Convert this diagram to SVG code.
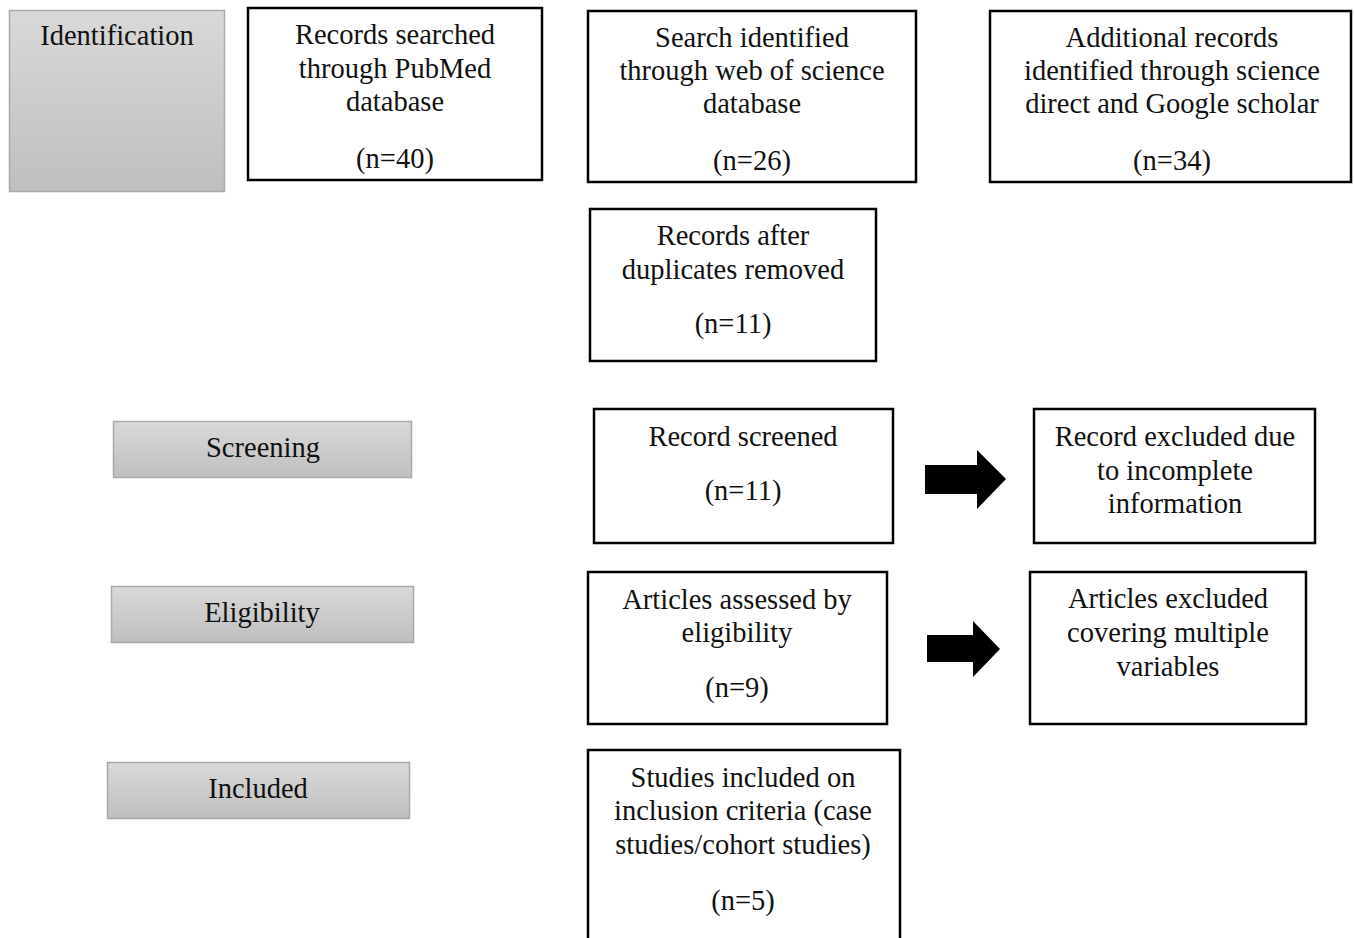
<svg xmlns="http://www.w3.org/2000/svg" width="1354" height="938" viewBox="0 0 1354 938">
<defs>
<linearGradient id="g" x1="0" y1="0" x2="0" y2="1">
<stop offset="0" stop-color="#d9d9d9"/>
<stop offset="1" stop-color="#bfbfbf"/>
</linearGradient>
<style>
.st{fill:url(#g);stroke:#a9a9a9;stroke-width:1.5}
.bx{fill:#fff;stroke:#000;stroke-width:2.5}
text{font-family:"Liberation Serif","DejaVu Serif",serif;font-size:28.5px;fill:#111;text-anchor:middle}
.ar{fill:#000}
</style>
</defs>
<rect width="1354" height="938" fill="#fff"/>
<g id="stage-identification"><rect class="st" x="9.5" y="10.5" width="215" height="181"/><text x="117" y="45">Identification</text></g>
<g id="stage-screening"><rect class="st" x="113.5" y="421.5" width="298" height="56"/><text x="263" y="457">Screening</text></g>
<g id="stage-eligibility"><rect class="st" x="111.5" y="586.5" width="302" height="56"/><text x="262" y="622">Eligibility</text></g>
<g id="stage-included"><rect class="st" x="107.5" y="762.5" width="302" height="56"/><text x="258" y="798">Included</text></g>
<g id="pubmed"><rect class="bx" x="248" y="8" width="294" height="172"/><text x="395" y="44">Records searched</text><text x="395" y="78">through PubMed</text><text x="395" y="111">database</text><text x="395" y="168">(n=40)</text></g>
<g id="wos"><rect class="bx" x="588" y="11" width="328" height="171"/><text x="752" y="47">Search identified</text><text x="752" y="80">through web of science</text><text x="752" y="113">database</text><text x="752" y="170">(n=26)</text></g>
<g id="additional"><rect class="bx" x="990" y="11" width="361" height="171"/><text x="1172" y="47">Additional records</text><text x="1172" y="80">identified through science</text><text x="1172" y="113">direct and Google scholar</text><text x="1172" y="170">(n=34)</text></g>
<g id="duplicates"><rect class="bx" x="590" y="209" width="286" height="152"/><text x="733" y="245">Records after</text><text x="733" y="279">duplicates removed</text><text x="733" y="333">(n=11)</text></g>
<g id="screened"><rect class="bx" x="594" y="409" width="299" height="134"/><text x="743" y="446">Record screened</text><text x="743" y="500">(n=11)</text></g>
<g id="excluded1"><rect class="bx" x="1034" y="409" width="281" height="134"/><text x="1175" y="446">Record excluded due</text><text x="1175" y="480">to incomplete</text><text x="1175" y="513">information</text></g>
<g id="assessed"><rect class="bx" x="588" y="572" width="299" height="152"/><text x="737" y="609">Articles assessed by</text><text x="737" y="642">eligibility</text><text x="737" y="697">(n=9)</text></g>
<g id="excluded2"><rect class="bx" x="1030" y="572" width="276" height="152"/><text x="1168" y="608">Articles excluded</text><text x="1168" y="642">covering multiple</text><text x="1168" y="676">variables</text></g>
<g id="included"><path class="bx" d="M588,940 V750 H900 V940"/><text x="743" y="787">Studies included on</text><text x="743" y="820">inclusion criteria (case</text><text x="743" y="854">studies/cohort studies)</text><text x="743" y="910">(n=5)</text></g>
<g id="connectors">
<path class="ar" d="M925,465 H977 V450 L1006,479 L977,509 V494 H925 Z"/>
<path class="ar" d="M927,635 H973 V621 L1000,649 L973,677 V662 H927 Z"/>
</g>
</svg>
